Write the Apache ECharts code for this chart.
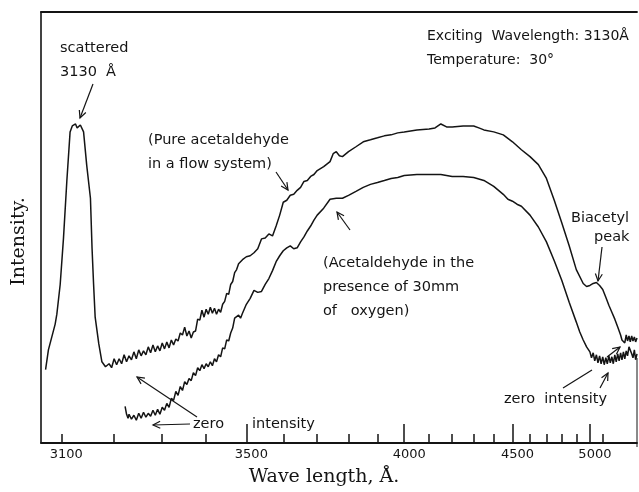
<!DOCTYPE html>
<html><head><meta charset="utf-8">
<script src="https://cdn.jsdelivr.net/npm/echarts@6/dist/echarts.min.js"></script>
<style>html,body{margin:0;padding:0;background:#fff}#chart{width:639px;height:492px}</style>
</head><body><div id="chart"></div>
<script>
// Wavelength scale of the spectrograph plate (Angstrom)
const tickLabelWavelengths = [3100, 3500, 4000, 4500, 5000];
const majorTickWavelengths = [3500, 4000, 4500, 5000];
const minorTickWavelengths = [3100, 3200, 3300, 3400, 3600, 3700, 3800, 3900, 4100, 4200, 4300, 4400, 4600, 4700, 4800, 4900, 5100];
const axisRangeWavelengths = [3064, 5400];

// Pure acetaldehyde in a flow system (incl. scattered 3130 A line)
const pureWavelengths = [3072,3077,3089,3092,3098,3104,3110,3116,3120,3126,3129,3135,3141,3147,3154,3157,3160,3163,3170,3176,3183,
3190,3195,3200,3205,3210,3215,3220,3225,3230,3235,3240,3245,3250,3255,3260,3265,3270,3275,3280,3285,3290,3295,3300,3305,3310,3315,3320,3325,3330,3335,3340,3345,3350,3355,3360,3365,3370,3375,3380,3385,3390,3395,3400,
3405,3410,3415,3420,3425,3430,3435,3440,3445,3450,3455,3460,3465,3470,3475,3480,3485,3490,3495,3500,
3510,3520,3530,3540,3550,3560,3570,3580,3590,3600,3610,3620,3630,3640,3650,3660,3670,3680,3690,3700,
3720,3740,3750,3760,3770,3780,3800,3825,3850,3875,3900,3925,3950,3975,4000,
4050,4100,4125,4150,4175,4200,4250,4300,4325,4350,4400,4450,4500,4550,4600,4650,4700,4750,4800,4850,
4900,4950,4975,5000,5025,5050,5075,5100,5125,5150,5175,5200,5225,5250,5262,5275,5287,5300,5312,5325,
5337,5350,5362,5375,5387,5400];
const pureIntensity = [74,94,120,130,160,207,264,314,320,322,318,321,314,280,247,197,160,127,100,82,77,
80,76,85,79,85,80,89,82,88,84,92,85,94,88,93,89,97,91,99,92,98,93,101,95,102,96,104,99,105,103,111,109,117,108,113,106,112,113,125,124,134,127,135,
130,137,131,136,130,135,132,140,143,151,150,160,163,172,175,181,179,185,184,188,
189,192,196,206,207,211,209,219,230,243,245,250,251,255,258,264,265,269,271,275,
279,284,292,294,290,289,294,299,304,306,308,310,311,313,314,
316,317,318,322,319,319,320,320,318,316,314,311,304,296,289,281,267,245,222,199,
175,161,158,159,161,162,159,155,147,139,132,125,117,109,104,106,101,109,103,108,
102,108,103,107,102,106];

// Acetaldehyde in the presence of 30 mm of oxygen
const oxygenWavelengths = [3222,3225,3228,
3230,3235,3240,3245,3250,3255,3260,3265,3270,3275,3280,3285,3290,3295,3300,3305,3310,3315,3320,3325,3330,3335,3340,3345,3350,3355,3360,3365,3370,3375,3380,3385,3390,3395,3400,3405,3410,3415,3420,3425,3430,3435,3440,3445,3450,3455,3460,3465,3470,3475,3480,3485,3490,3495,3500,
3510,3520,3530,3540,3550,3560,3570,3580,3590,3600,3610,3620,3630,3640,3650,3660,3670,3680,3690,3700,
3720,3740,3760,3780,3800,3825,3850,3875,3900,3925,3950,3975,4000,
4050,4100,4150,4200,4250,4300,4350,4400,4450,4475,4500,4525,4550,4600,4650,4700,4750,4800,4850,4900,
4925,4950,4975,5000,5012,5025,5037,5050,5062,5075,5087,5100,5112,5125,5137,5150,5162,5175,5187,5200,
5212,5225,5237,5250,5262,5275,5287,5300,5312,5325,5337,5350,5362,5375,5387,5400];
const oxygenIntensity = [37,29,25,
29,24,28,23,30,25,31,26,30,27,33,28,34,29,36,33,40,36,45,43,52,48,57,53,62,59,65,63,71,68,76,73,79,75,80,77,82,78,85,82,89,87,96,95,104,103,111,116,126,124,129,126,131,133,140,
146,154,152,153,160,166,174,183,189,194,197,199,196,197,203,208,214,219,225,230,
237,246,247,247,250,254,258,261,263,265,267,268,270,
271,271,271,269,269,268,265,259,251,246,244,241,239,230,218,203,184,164,142,122,
112,104,97,92,86,91,83,89,81,88,80,87,79,86,80,88,81,87,80,89,
82,90,83,91,84,92,85,93,88,97,99,90,86,94,84,90];

// Plate scale: position is linear in 1/lambda^2
function toAxis(l) { return 1e8 / (l * l); }
function fromAxis(v) { return Math.round(Math.sqrt(1e8 / v)); }

const INK = '#141414';
const axMin = toAxis(axisRangeWavelengths[1]);
const axMax = toAxis(axisRangeWavelengths[0]);

function arrow(x1, y1, x2, y2, head) {
  const els = [{ type: 'line', shape: { x1, y1, x2, y2 }, style: { stroke: INK, lineWidth: 1.2 } }];
  if (head !== false) {
    const a = Math.atan2(y2 - y1, x2 - x1), L = 8, s = 0.45;
    els.push({ type: 'polyline', shape: { points: [
      [x2 - L * Math.cos(a - s), y2 - L * Math.sin(a - s)], [x2, y2],
      [x2 - L * Math.cos(a + s), y2 - L * Math.sin(a + s)]] },
      style: { stroke: INK, lineWidth: 1.2, fill: null } });
  }
  return els;
}
function label(text, x, y, size) {
  return { type: 'text', x, y, style: { text, fontSize: size || 14.5, fontFamily: 'DejaVu Sans', fill: INK, verticalAlign: 'middle', align: 'left' } };
}

const graphics = [].concat(
  [label('scattered', 60, 48), label('3130  Å', 60, 72),
   label('(Pure acetaldehyde', 148, 140), label('in a flow system)', 148, 164),
   label('Exciting  Wavelength: 3130Å', 427, 36, 14), label('Temperature:  30°', 427, 60, 14),
   label('(Acetaldehyde in the', 323, 263), label('presence of 30mm', 323, 287), label('of   oxygen)', 323, 311),
   label('Biacetyl', 571, 218), label('peak', 594, 237),
   label('zero  intensity', 504, 399), label('zero', 193, 424), label('intensity', 252, 424)],
  arrow(93, 84, 80, 118),
  arrow(276, 172, 288, 190),
  arrow(350, 230, 337, 212),
  arrow(602, 247, 598, 281),
  arrow(607, 357, 620, 347),
  arrow(563, 388, 592, 370, false),
  arrow(600, 388, 608, 373),
  arrow(190, 424, 153, 425),
  arrow(197, 417, 137, 377),
  [{ type: 'line', shape: { x1: 637, y1: 358, x2: 637, y2: 447 }, style: { stroke: INK, lineWidth: 1 } }]
);

const chart = echarts.init(document.getElementById('chart'), null, { renderer: 'canvas' });
chart.setOption({
  animation: false,
  backgroundColor: '#fff',
  grid: { left: 41, right: 2, top: 12, bottom: 45, containLabel: false },
  xAxis: [
    { type: 'value', position: 'bottom', min: axMin, max: axMax, inverse: true,
      axisLine: { show: true, onZero: false, lineStyle: { color: INK, width: 1.8 } },
      axisTick: { show: true, inside: true, length: 19, customValues: majorTickWavelengths.map(toAxis), lineStyle: { color: INK, width: 1.5 } },
      axisLabel: { show: true, customValues: tickLabelWavelengths.map(toAxis), formatter: v => String(fromAxis(v)),
        color: INK, fontFamily: 'DejaVu Sans', fontSize: 13, margin: 5, padding: [0, 0, 0, 10] },
      splitLine: { show: false },
      name: 'Wave length, Å.', nameLocation: 'middle', nameGap: 25,
      nameTextStyle: { fontFamily: 'DejaVu Serif', fontSize: 19, color: INK, padding: [0, 30, 0, 0] } },
    { type: 'value', position: 'bottom', min: axMin, max: axMax, inverse: true,
      axisLine: { show: false, onZero: false },
      axisTick: { show: true, inside: true, length: 9, customValues: minorTickWavelengths.map(toAxis), lineStyle: { color: INK, width: 1.5 } },
      axisLabel: { show: false }, splitLine: { show: false } },
    { type: 'value', position: 'top', min: axMin, max: axMax, inverse: true,
      axisLine: { show: true, onZero: false, lineStyle: { color: INK, width: 1.8 } },
      axisTick: { show: false }, axisLabel: { show: false }, splitLine: { show: false } }
  ],
  yAxis: { type: 'value', min: 0, max: 435,
    axisLine: { show: true, lineStyle: { color: INK, width: 1.6 } },
    axisTick: { show: false }, axisLabel: { show: false }, splitLine: { show: false },
    name: 'Intensity.', nameLocation: 'middle', nameGap: 12, nameRotate: 90,
    nameTextStyle: { fontFamily: 'DejaVu Serif', fontSize: 19, color: INK, padding: [0, 28, 0, 0] } },
  series: [
    { name: 'Pure acetaldehyde', type: 'line', xAxisIndex: 0, symbol: 'none', smooth: false,
      lineStyle: { color: INK, width: 1.5 },
      data: pureWavelengths.map((l, i) => [toAxis(l), pureIntensity[i]]) },
    { name: 'Acetaldehyde + 30mm O2', type: 'line', xAxisIndex: 0, symbol: 'none', smooth: false,
      lineStyle: { color: INK, width: 1.5 },
      data: oxygenWavelengths.map((l, i) => [toAxis(l), oxygenIntensity[i]]) }
  ],
  graphic: graphics
});
</script></body></html>
